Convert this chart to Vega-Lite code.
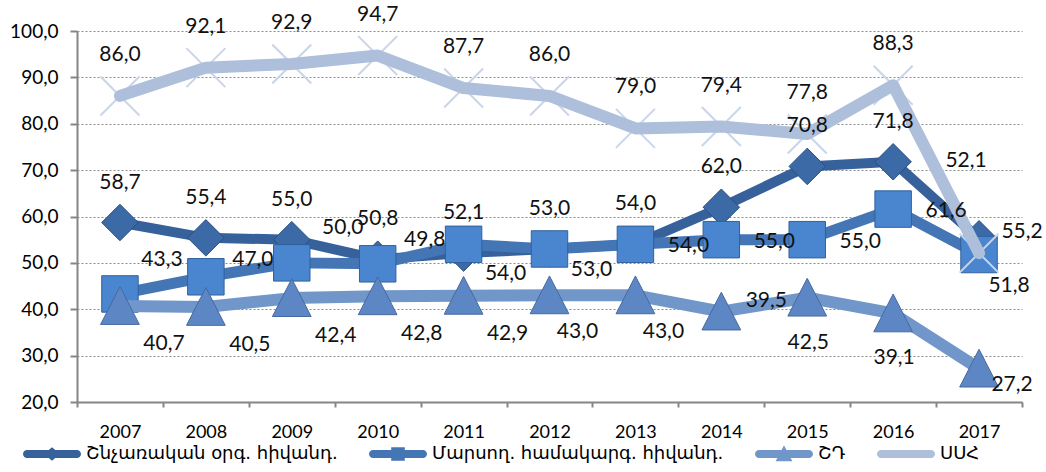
{
  "$schema": "https://vega.github.io/schema/vega-lite/v6.json",
  "width": 945,
  "height": 371,
  "autosize": "none",
  "padding": {"left": 77, "top": 31, "right": 24, "bottom": 70},
  "background": "#ffffff",
  "config": {
    "view": {"stroke": null},
    "locale": {"number": {"decimal": ",", "thousands": " ", "grouping": [3], "currency": ["", ""]}},
    "text": {"font": "Lato", "fontSize": 21, "fill": "#111111", "baseline": "middle", "align": "center"}
  },
  "data": {
    "values": [
      {"year": "2007", "series": "Շնչառական օրգ. հիվանդ.", "value": 58.7},
      {"year": "2008", "series": "Շնչառական օրգ. հիվանդ.", "value": 55.4},
      {"year": "2009", "series": "Շնչառական օրգ. հիվանդ.", "value": 55.0},
      {"year": "2010", "series": "Շնչառական օրգ. հիվանդ.", "value": 50.8},
      {"year": "2011", "series": "Շնչառական օրգ. հիվանդ.", "value": 52.1},
      {"year": "2012", "series": "Շնչառական օրգ. հիվանդ.", "value": 53.0},
      {"year": "2013", "series": "Շնչառական օրգ. հիվանդ.", "value": 54.0},
      {"year": "2014", "series": "Շնչառական օրգ. հիվանդ.", "value": 62.0},
      {"year": "2015", "series": "Շնչառական օրգ. հիվանդ.", "value": 70.8},
      {"year": "2016", "series": "Շնչառական օրգ. հիվանդ.", "value": 71.8},
      {"year": "2017", "series": "Շնչառական օրգ. հիվանդ.", "value": 55.2},
      {"year": "2007", "series": "Մարսող. համակարգ. հիվանդ.", "value": 43.3},
      {"year": "2008", "series": "Մարսող. համակարգ. հիվանդ.", "value": 47.0},
      {"year": "2009", "series": "Մարսող. համակարգ. հիվանդ.", "value": 50.0},
      {"year": "2010", "series": "Մարսող. համակարգ. հիվանդ.", "value": 49.8},
      {"year": "2011", "series": "Մարսող. համակարգ. հիվանդ.", "value": 54.0},
      {"year": "2012", "series": "Մարսող. համակարգ. հիվանդ.", "value": 53.0},
      {"year": "2013", "series": "Մարսող. համակարգ. հիվանդ.", "value": 54.0},
      {"year": "2014", "series": "Մարսող. համակարգ. հիվանդ.", "value": 55.0},
      {"year": "2015", "series": "Մարսող. համակարգ. հիվանդ.", "value": 55.0},
      {"year": "2016", "series": "Մարսող. համակարգ. հիվանդ.", "value": 61.6},
      {"year": "2017", "series": "Մարսող. համակարգ. հիվանդ.", "value": 51.8},
      {"year": "2007", "series": "ՇԴ", "value": 40.7},
      {"year": "2008", "series": "ՇԴ", "value": 40.5},
      {"year": "2009", "series": "ՇԴ", "value": 42.4},
      {"year": "2010", "series": "ՇԴ", "value": 42.8},
      {"year": "2011", "series": "ՇԴ", "value": 42.9},
      {"year": "2012", "series": "ՇԴ", "value": 43.0},
      {"year": "2013", "series": "ՇԴ", "value": 43.0},
      {"year": "2014", "series": "ՇԴ", "value": 39.5},
      {"year": "2015", "series": "ՇԴ", "value": 42.5},
      {"year": "2016", "series": "ՇԴ", "value": 39.1},
      {"year": "2017", "series": "ՇԴ", "value": 27.2},
      {"year": "2007", "series": "ՍՍՀ", "value": 86.0},
      {"year": "2008", "series": "ՍՍՀ", "value": 92.1},
      {"year": "2009", "series": "ՍՍՀ", "value": 92.9},
      {"year": "2010", "series": "ՍՍՀ", "value": 94.7},
      {"year": "2011", "series": "ՍՍՀ", "value": 87.7},
      {"year": "2012", "series": "ՍՍՀ", "value": 86.0},
      {"year": "2013", "series": "ՍՍՀ", "value": 79.0},
      {"year": "2014", "series": "ՍՍՀ", "value": 79.4},
      {"year": "2015", "series": "ՍՍՀ", "value": 77.8},
      {"year": "2016", "series": "ՍՍՀ", "value": 88.3},
      {"year": "2017", "series": "ՍՍՀ", "value": 52.1}
    ]
  },
  "encoding": {
    "x": {
      "field": "year", "type": "ordinal",
      "scale": {"type": "band", "paddingInner": 0, "paddingOuter": 0},
      "axis": {"title": null, "labelAngle": 0, "tickBand": "extent", "grid": false,
        "domainColor": "#868686", "domainWidth": 2, "tickColor": "#868686", "tickWidth": 2, "tickSize": 5,
        "labelFont": "Lato", "labelFontSize": 18, "labelColor": "#000000", "labelPadding": 16}
    },
    "y": {
      "field": "value", "type": "quantitative",
      "scale": {"domain": [20, 100], "nice": false, "zero": false},
      "axis": {"title": null, "values": [20, 30, 40, 50, 60, 70, 80, 90, 100], "format": ".1f",
        "grid": true, "gridColor": "#8c8c8c", "gridDash": [2, 2], "gridWidth": 1,
        "domainColor": "#868686", "domainWidth": 2, "tickColor": "#868686", "tickWidth": 2, "tickSize": 7,
        "labelFont": "Lato", "labelFontSize": 19, "labelColor": "#000000", "labelPadding": 12}
    }
  },
  "layer": [
    {
      "transform": [{"filter": "datum.series === 'Շնչառական օրգ. հիվանդ.'"}],
      "mark": {"type": "line", "strokeWidth": 10, "strokeCap": "round", "strokeJoin": "round"},
      "encoding": {
        "color": {
          "field": "series", "type": "nominal",
          "scale": {"domain": ["Շնչառական օրգ. հիվանդ.", "Մարսող. համակարգ. հիվանդ.", "ՇԴ", "ՍՍՀ"], "range": ["#36619a", "#4476b6", "#7197ca", "#adbfdb"]},
          "legend": {
            "title": null, "orient": "none", "legendX": -55, "legendY": 414, "direction": "horizontal", "columns": 4,
            "symbolSize": 256, "symbolStrokeWidth": 0, "labelOffset": 46, "columnPadding": 30,
            "labelFont": "DejaVu Sans", "labelFontSize": 18, "labelColor": "#000000", "labelLimit": 0,
            "encode": {"symbols": {"update": {
              "shape": {"signal": "['M-0.5,-0.5H5.75A0.5,0.5 0 0 1 5.75,0.5H-0.5A0.5,0.5 0 0 1 -0.5,-0.5ZM2.625,-0.85L3.625,0L2.625,0.85L1.625,0Z','M-0.5,-0.5H5.75A0.5,0.5 0 0 1 5.75,0.5H-0.5A0.5,0.5 0 0 1 -0.5,-0.5ZM1.775,-0.85H3.475V0.85H1.775Z','M-0.5,-0.5H5.75A0.5,0.5 0 0 1 5.75,0.5H-0.5A0.5,0.5 0 0 1 -0.5,-0.5ZM2.625,-1.1L3.675,0.9H1.575Z','M-0.5,-0.5H5.75A0.5,0.5 0 0 1 5.75,0.5H-0.5A0.5,0.5 0 0 1 -0.5,-0.5Z'][datum.index]"},
              "fill": {"signal": "scale('color', datum.value)"},
              "strokeWidth": {"value": 0},
              "opacity": {"value": 1}
            }}}
          }
        }
      }
    },
    {
      "transform": [{"filter": "datum.series === 'Շնչառական օրգ. հիվանդ.'"}],
      "mark": {"type": "point", "shape": "diamond", "size": 1330, "filled": true, "fill": "#3b6aa6", "stroke": "#2a4f80", "strokeWidth": 1, "opacity": 1}
    },
    {
      "transform": [{"filter": "datum.series === 'Մարսող. համակարգ. հիվանդ.'"}],
      "mark": {"type": "line", "strokeWidth": 11, "strokeCap": "round", "strokeJoin": "round"},
      "encoding": {"color": {"field": "series", "type": "nominal"}}
    },
    {
      "transform": [{"filter": "datum.series === 'Մարսող. համակարգ. հիվանդ.'"}],
      "mark": {"type": "point", "shape": "square", "size": 1330, "filled": true, "fill": "#4a86d0", "stroke": "#30609c", "strokeWidth": 1, "opacity": 1}
    },
    {
      "transform": [{"filter": "datum.series === 'ՇԴ'"}],
      "mark": {"type": "line", "strokeWidth": 12, "strokeCap": "round", "strokeJoin": "round"},
      "encoding": {"color": {"field": "series", "type": "nominal"}}
    },
    {
      "transform": [{"filter": "datum.series === 'ՇԴ'"}],
      "mark": {"type": "point", "shape": "M0,-1L1,0.95H-1Z", "size": 1500, "filled": true, "fill": "#5d87c4", "stroke": "#46699f", "strokeWidth": 1, "opacity": 1}
    },
    {
      "transform": [{"filter": "datum.series === 'ՍՍՀ'"}],
      "mark": {"type": "point", "shape": "M-1,-1L1,1M-1,1L1,-1", "size": 1520, "filled": false, "stroke": "#c9d5e9", "strokeWidth": 2, "opacity": 1}
    },
    {
      "transform": [{"filter": "datum.series === 'ՍՍՀ'"}],
      "mark": {"type": "line", "strokeWidth": 12, "strokeCap": "round", "strokeJoin": "round"},
      "encoding": {"color": {"field": "series", "type": "nominal"}}
    },
    {
      "transform": [{"filter": "datum.series === 'Շնչառական օրգ. հիվանդ.' && datum.year !== '2017'"}],
      "mark": {"type": "text", "dx": 0, "dy": -40},
      "encoding": {"text": {"field": "value", "type": "quantitative", "format": ".1f"}}
    },
    {
      "transform": [{"filter": "datum.series === 'Շնչառական օրգ. հիվանդ.' && datum.year === '2017'"}],
      "mark": {"type": "text", "dx": 43, "dy": -7},
      "encoding": {"text": {"field": "value", "type": "quantitative", "format": ".1f"}}
    },
    {
      "transform": [{"filter": "datum.series === 'Մարսող. համակարգ. հիվանդ.' && indexof(['2013','2014','2015','2016'], datum.year) >= 0"}],
      "mark": {"type": "text", "dx": 53, "dy": 2},
      "encoding": {"text": {"field": "value", "type": "quantitative", "format": ".1f"}}
    },
    {
      "transform": [{"filter": "datum.series === 'Մարսող. համակարգ. հիվանդ.' && datum.year === '2007'"}],
      "mark": {"type": "text", "dx": 42, "dy": -34},
      "encoding": {"text": {"field": "value", "type": "quantitative", "format": ".1f"}}
    },
    {
      "transform": [{"filter": "datum.series === 'Մարսող. համակարգ. հիվանդ.' && datum.year === '2008'"}],
      "mark": {"type": "text", "dx": 47, "dy": -17},
      "encoding": {"text": {"field": "value", "type": "quantitative", "format": ".1f"}}
    },
    {
      "transform": [{"filter": "datum.series === 'Մարսող. համակարգ. հիվանդ.' && datum.year === '2009'"}],
      "mark": {"type": "text", "dx": 51, "dy": -35},
      "encoding": {"text": {"field": "value", "type": "quantitative", "format": ".1f"}}
    },
    {
      "transform": [{"filter": "datum.series === 'Մարսող. համակարգ. հիվանդ.' && datum.year === '2010'"}],
      "mark": {"type": "text", "dx": 47, "dy": -24},
      "encoding": {"text": {"field": "value", "type": "quantitative", "format": ".1f"}}
    },
    {
      "transform": [{"filter": "datum.series === 'Մարսող. համակարգ. հիվանդ.' && datum.year === '2011'"}],
      "mark": {"type": "text", "dx": 42, "dy": 30},
      "encoding": {"text": {"field": "value", "type": "quantitative", "format": ".1f"}}
    },
    {
      "transform": [{"filter": "datum.series === 'Մարսող. համակարգ. հիվանդ.' && datum.year === '2012'"}],
      "mark": {"type": "text", "dx": 42, "dy": 21},
      "encoding": {"text": {"field": "value", "type": "quantitative", "format": ".1f"}}
    },
    {
      "transform": [{"filter": "datum.series === 'Մարսող. համակարգ. հիվանդ.' && datum.year === '2017'"}],
      "mark": {"type": "text", "dx": 30, "dy": 31},
      "encoding": {"text": {"field": "value", "type": "quantitative", "format": ".1f"}}
    },
    {
      "transform": [{"filter": "datum.series === 'ՇԴ' && indexof(['2007','2008','2009','2010','2011'], datum.year) >= 0"}],
      "mark": {"type": "text", "dx": 44, "dy": 38},
      "encoding": {"text": {"field": "value", "type": "quantitative", "format": ".1f"}}
    },
    {
      "transform": [{"filter": "datum.series === 'ՇԴ' && indexof(['2012','2013'], datum.year) >= 0"}],
      "mark": {"type": "text", "dx": 28, "dy": 37},
      "encoding": {"text": {"field": "value", "type": "quantitative", "format": ".1f"}}
    },
    {
      "transform": [{"filter": "datum.series === 'ՇԴ' && datum.year === '2014'"}],
      "mark": {"type": "text", "dx": 45, "dy": -11},
      "encoding": {"text": {"field": "value", "type": "quantitative", "format": ".1f"}}
    },
    {
      "transform": [{"filter": "datum.series === 'ՇԴ' && indexof(['2015','2016'], datum.year) >= 0"}],
      "mark": {"type": "text", "dx": 1, "dy": 45},
      "encoding": {"text": {"field": "value", "type": "quantitative", "format": ".1f"}}
    },
    {
      "transform": [{"filter": "datum.series === 'ՇԴ' && datum.year === '2017'"}],
      "mark": {"type": "text", "dx": 33, "dy": 16},
      "encoding": {"text": {"field": "value", "type": "quantitative", "format": ".1f"}}
    },
    {
      "transform": [{"filter": "datum.series === 'ՍՍՀ' && datum.year !== '2017'"}],
      "mark": {"type": "text", "dx": 0, "dy": -41},
      "encoding": {"text": {"field": "value", "type": "quantitative", "format": ".1f"}}
    },
    {
      "transform": [{"filter": "datum.series === 'ՍՍՀ' && datum.year === '2017'"}],
      "mark": {"type": "text", "dx": -13, "dy": -92},
      "encoding": {"text": {"field": "value", "type": "quantitative", "format": ".1f"}}
    }
  ]
}
